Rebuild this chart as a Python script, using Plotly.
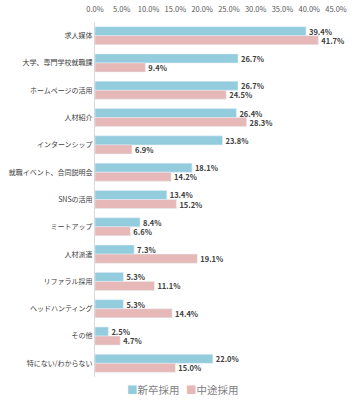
import plotly.graph_objects as go

categories = ["求人媒体", "大学、専門学校就職課", "ホームページの活用", "人材紹介", "インターンシップ",
              "就職イベント、合同説明会", "SNSの活用", "ミートアップ", "人材派遣", "リファラル採用",
              "ヘッドハンティング", "その他", "特にない/わからない"]
shinsotsu = [39.4, 26.7, 26.7, 26.4, 23.8, 18.1, 13.4, 8.4, 7.3, 5.3, 5.3, 2.5, 22.0]
chuto = [41.7, 9.4, 24.5, 28.3, 6.9, 14.2, 15.2, 6.6, 19.1, 11.1, 14.4, 4.7, 15.0]
series_names = ["新卒採用", "中途採用"]
colors = ["#93CDDD", "#E6B9B8"]
tick_vals = [0, 5, 10, 15, 20, 25, 30, 35, 40, 45]
tick_text = [f"{v:.1f}%" for v in tick_vals]

font_family = "Noto Sans CJK JP, Noto Sans, sans-serif"

fig = go.Figure()
for vals, name, col in zip([shinsotsu, chuto], series_names, colors):
    fig.add_trace(go.Bar(
        y=categories, x=vals, name=name, orientation="h",
        marker=dict(color=col),
        text=[f"<b>{v:.1f}%</b>" for v in vals], textposition="outside",
        textfont=dict(size=7.5, color="#404040", family=font_family), cliponaxis=False,
        showlegend=False,
    ))

# legend drawn as annotations (compact, like the reference)
legend_x = [0.125, 0.37]
for lx, name, col in zip(legend_x, series_names, colors):
    fig.add_annotation(
        x=lx, y=-0.034, xref="paper", yref="paper", xanchor="left", yanchor="middle",
        text=f"<span style='color:{col}'>■</span>{name}", showarrow=False,
        font=dict(size=10.5, color="#7f7f7f", family=font_family),
    )

fig.update_layout(
    width=353, height=400,
    margin=dict(l=95, r=17, t=22, b=23, autoexpand=False),
    barmode="group", bargap=0.34, bargroupgap=0.0,
    plot_bgcolor="white", paper_bgcolor="white",
    font=dict(family=font_family, size=7, color="#404040"),
    showlegend=False,
    xaxis=dict(side="top", range=[0, 45], tickvals=tick_vals, ticktext=tick_text,
               showgrid=False, zeroline=False, showline=False, ticks="",
               ticklabelstandoff=8,
               tickfont=dict(size=7.5, color="#595959")),
    yaxis=dict(autorange="reversed", showline=True, linecolor="#d9d9d9", linewidth=1,
               ticks="", tickfont=dict(size=7, color="#404040"), showgrid=False),
    uniformtext=dict(minsize=7, mode="show"),
)

fig.write_html("out.html")
